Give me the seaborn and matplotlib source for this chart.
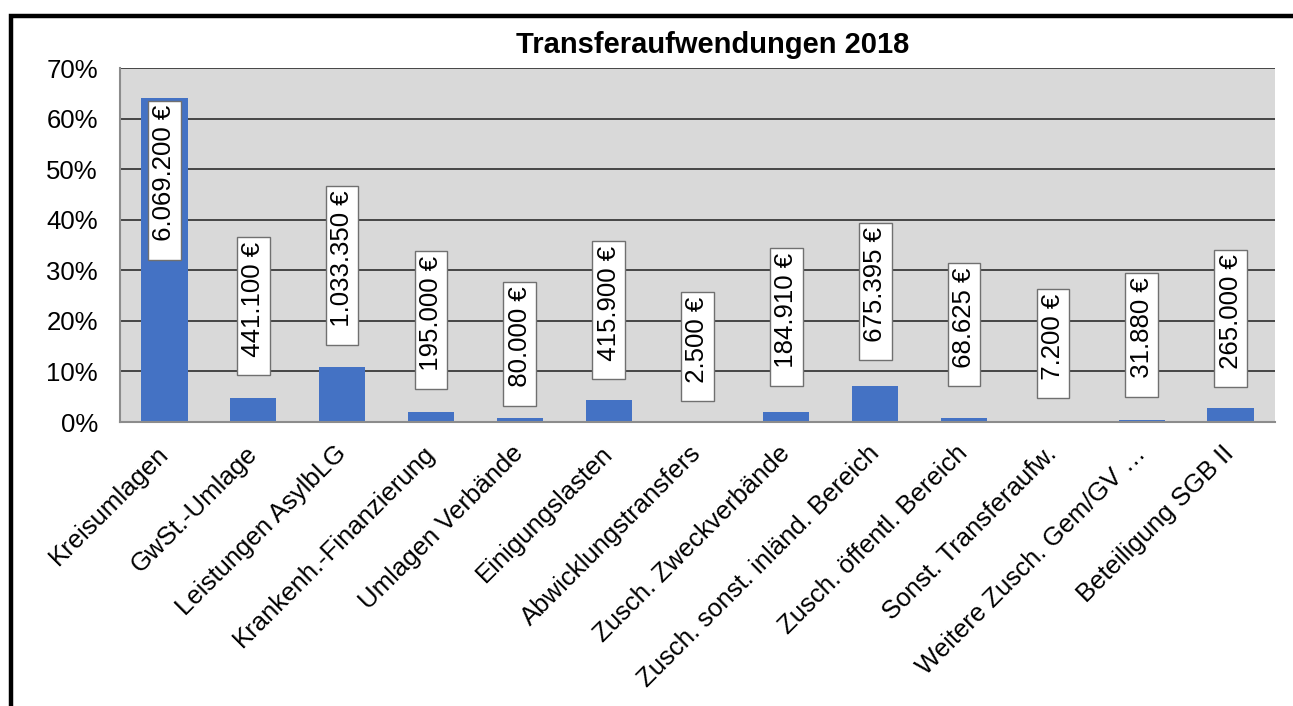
import matplotlib
matplotlib.use("Agg")
import matplotlib.pyplot as plt
import matplotlib.patches as mpatches
import seaborn as sns
import pandas as pd
import numpy as np

# Daten
kategorien = ["Kreisumlagen", "GwSt.-Umlage", "Leistungen AsylbLG",
              "Krankenh.-Finanzierung", "Umlagen Verbände", "Einigungslasten",
              "Abwicklungstransfers", "Zusch. Zweckverbände",
              "Zusch. sonst. inländ. Bereich", "Zusch. öffentl. Bereich",
              "Sonst. Transferaufw.", "Weitere Zusch. Gem/GV …",
              "Beteiligung SGB II"]
anteil = [64.1, 4.66, 10.9, 2.06, 0.84, 4.39, 0.03, 1.95, 7.13, 0.72, 0.08, 0.34, 2.80]
betrag = ["6.069.200 €", "441.100 €", "1.033.350 €", "195.000 €", "80.000 €",
          "415.900 €", "2.500 €", "184.910 €", "675.395 €", "68.625 €",
          "7.200 €", "31.880 €", "265.000 €"]
# Lage der Beschriftungskästen (Mitte, in %)
label_y = [47.8, 22.9, 31.0, 20.1, 15.4, 22.1, 14.9, 20.7, 25.8, 19.3, 15.5, 17.2, 20.5]

df = pd.DataFrame({"Kategorie": kategorien, "Anteil": anteil})

sns.set_style("white")
plt.rcParams["font.family"] = ["Liberation Sans", "DejaVu Sans"]
plt.rcParams["text.color"] = "black"

fig = plt.figure(figsize=(12.93, 7.06), dpi=100)
ax = fig.add_axes([120 / 1293, 1 - 422 / 706, 1155 / 1293, 354 / 706])
ax.set_facecolor("#D9D9D9")

sns.barplot(data=df, x="Kategorie", y="Anteil", color="#4472C4",
            saturation=1, width=0.52, linewidth=0, ax=ax, zorder=3)

ax.set_ylim(0, 70)
ax.set_xlim(-0.5, len(kategorien) - 0.5)
ax.set_yticks(np.arange(0, 71, 10))
ax.set_yticklabels([f"{v}%" for v in range(0, 71, 10)], fontsize=18.5)
ax.grid(axis="y", color="#3a3a3a", lw=1.3, zorder=1)
ax.set_axisbelow(True)

ax.set_xticks(range(len(kategorien)))
ax.set_xticklabels(kategorien, rotation=45, ha="right", va="center",
                   rotation_mode="anchor", fontsize=18.5)
ax.set_xticks(np.arange(-0.5, len(kategorien)), minor=True)
ax.tick_params(axis="x", which="major", length=0, pad=20)
ax.tick_params(axis="x", which="minor", length=7, width=1.3, color="#8c8c8c")
ax.tick_params(axis="y", length=7, width=1.3, color="#8c8c8c", pad=9)
ax.tick_params(labelcolor="black")
ax.set_xlabel("")
ax.set_ylabel("")

for s in ["top", "right"]:
    ax.spines[s].set_visible(False)
for s in ["left", "bottom"]:
    ax.spines[s].set_color("#8c8c8c")
    ax.spines[s].set_linewidth(1.5)
    ax.spines[s].set_zorder(4)

for i, (txt, yy) in enumerate(zip(betrag, label_y)):
    ax.text(i, yy, "  " + txt, rotation=90, ha="center", va="center",
            fontsize=18.5, color="black", zorder=5,
            bbox=dict(boxstyle="square,pad=0.17", fc="white",
                      ec="#707070", lw=1))

fig.text(713 / 1293, 1 - 45 / 706, "Transferaufwendungen 2018",
         ha="center", va="center", fontsize=21, fontweight="bold",
         color="black")

# schwarzer Rahmen (nur links und oben sichtbar)
rahmen = mpatches.Rectangle((11 / 1293, -0.2), 1.3, 1 - 15.5 / 706 + 0.2,
                            transform=fig.transFigure, fill=False,
                            ec="black", lw=3.2)
fig.patches.append(rahmen)

fig.savefig("out.png", dpi=100)
